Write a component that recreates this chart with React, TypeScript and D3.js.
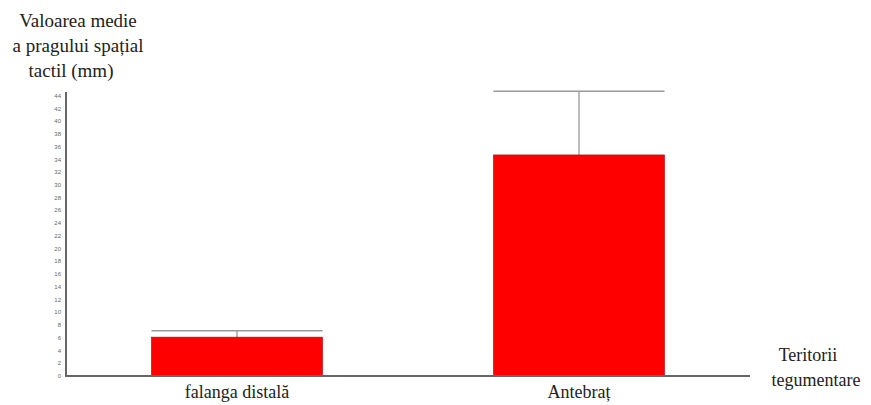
import React from "react";
import * as d3 from "d3";

const categories = ["falanga distală", "Antebraț"];
const means = [6.1, 34.7];
const errorTops = [7.1, 44.7];
const yTicks = d3.range(0, 46, 2);
const titleLines = ["Valoarea medie", "a pragului spațial", "tactil (mm)"];
const xTitleLines = ["Teritorii", "tegumentare"];

export default function App() {
  const W = 871, H = 405;
  const x0 = 66, x1 = 750, yBase = 376, yTop = 95.7;
  const x = d3.scaleBand<string>().domain(categories).range([x0, x1]).paddingInner(0.5).paddingOuter(0.25);
  const y = d3.scaleLinear().domain([0, 44]).range([yBase, yTop]);
  const serif = { fontFamily: "Liberation Serif, Times New Roman, DejaVu Serif, serif" };
  return (
    <svg width={W} height={H} style={{ position: "absolute", left: 0, top: 0, background: "#fff" }}>
      {titleLines.map((t, i) => (
        <text key={i} x={i === 2 ? 71 : 78} y={27 + i * 25} textAnchor="middle" style={serif} fontSize={19} fill="#222">{t}</text>
      ))}
      {yTicks.map((t) => (
        <text key={t} x={61} y={y(t)} dy="0.35em" textAnchor="end" style={{ fontFamily: "Liberation Sans, sans-serif" }} fontSize={6} fill="#666">{t}</text>
      ))}
      {categories.map((c, i) => {
        const bx = x(c)!;
        const bw = x.bandwidth();
        const cx = bx + bw / 2;
        return (
          <g key={c}>
            <line x1={cx} x2={cx} y1={y(errorTops[i])} y2={y(means[i])} stroke="#999" strokeWidth={1.3} />
            <line x1={bx} x2={bx + bw} y1={y(errorTops[i])} y2={y(errorTops[i])} stroke="#999" strokeWidth={1.5} />
            <rect x={bx} y={y(means[i])} width={bw} height={yBase - y(means[i])} fill="#ff0000" stroke="#a00" strokeWidth={0.6} />
            <text x={cx} y={398} textAnchor="middle" style={serif} fontSize={18} fill="#222">{c}</text>
          </g>
        );
      })}
      <line x1={x0} x2={x0} y1={92} y2={yBase + 1} stroke="#666" strokeWidth={2} />
      <line x1={x0 - 1} x2={x1} y1={yBase} y2={yBase} stroke="#666" strokeWidth={2} />
      {xTitleLines.map((t, i) => (
        <text key={i} x={i === 0 ? 808 : 816} y={361 + i * 25} textAnchor="middle" style={serif} fontSize={18} fill="#222">{t}</text>
      ))}
    </svg>
  );
}
